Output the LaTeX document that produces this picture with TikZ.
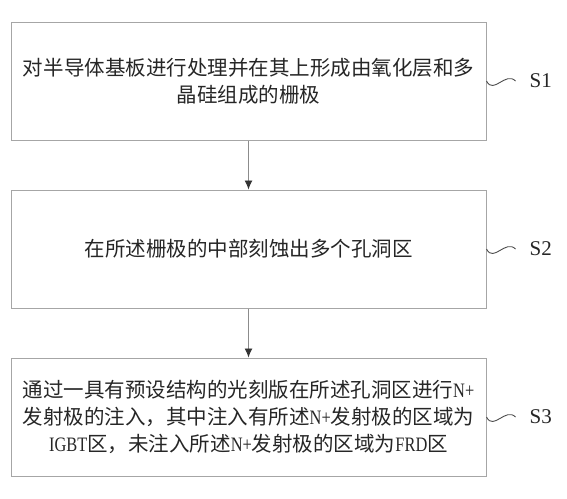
\documentclass[tikz,border=0pt]{standalone}
\usepackage{fontspec}
\setmainfont{Liberation Serif}
\newfontfamily\cjk{Noto Sans CJK SC}
\newfontfamily\lat[FakeStretch=0.8]{Liberation Serif}
\usetikzlibrary{arrows.meta}
\begin{document}
\begin{tikzpicture}[x=1pt,y=-1pt,
  stepbox/.style={draw=black!35,line width=1pt,minimum width=475pt,minimum height=118pt,
    inner sep=0pt,align=center,text=black!85,font=\cjk\fontsize{20.5}{27}\selectfont},
  arr/.style={draw=black!45,line width=0.9pt,-{Latex[length=9pt,width=8pt,color=black!80]}},
  wave/.style={draw=black!70,line width=0.9pt},
  slabel/.style={font=\fontsize{21}{23}\selectfont,text=black!85,anchor=west,inner sep=0pt}]
\useasboundingbox (0,0) rectangle (567,498);
\node[stepbox] (b1) at (248.5,81) {对半导体基板进行处理并在其上形成由氧化层和多\\晶硅组成的栅极};
\node[stepbox] (b2) at (248.5,249) {在所述栅极的中部刻蚀出多个孔洞区};
\node[stepbox] (b3) at (248.5,417) {通过一具有预设结构的光刻版在所述孔洞区进行{\lat N+}\\发射极的注入，其中注入有所述{\lat N+}发射极的区域为\\{\lat IGBT}区，未注入所述{\lat N+}发射极的区域为{\lat FRD}区};
\draw[arr] (b1.south) -- (b2.north);
\draw[arr] (b2.south) -- (b3.north);
\foreach \b/\s in {b1/S1,b2/S2,b3/S3}{
  \coordinate (w\s) at ([xshift=29pt]\b.east);
  \draw[wave] (\b.east) .. controls ([xshift=7pt,yshift=-14pt]\b.east) and ([xshift=-10pt,yshift=10pt]w\s) .. (w\s);
  \node[slabel] (l\s) at ([xshift=14pt]w\s) {\s};
}
\end{tikzpicture}
\end{document}
